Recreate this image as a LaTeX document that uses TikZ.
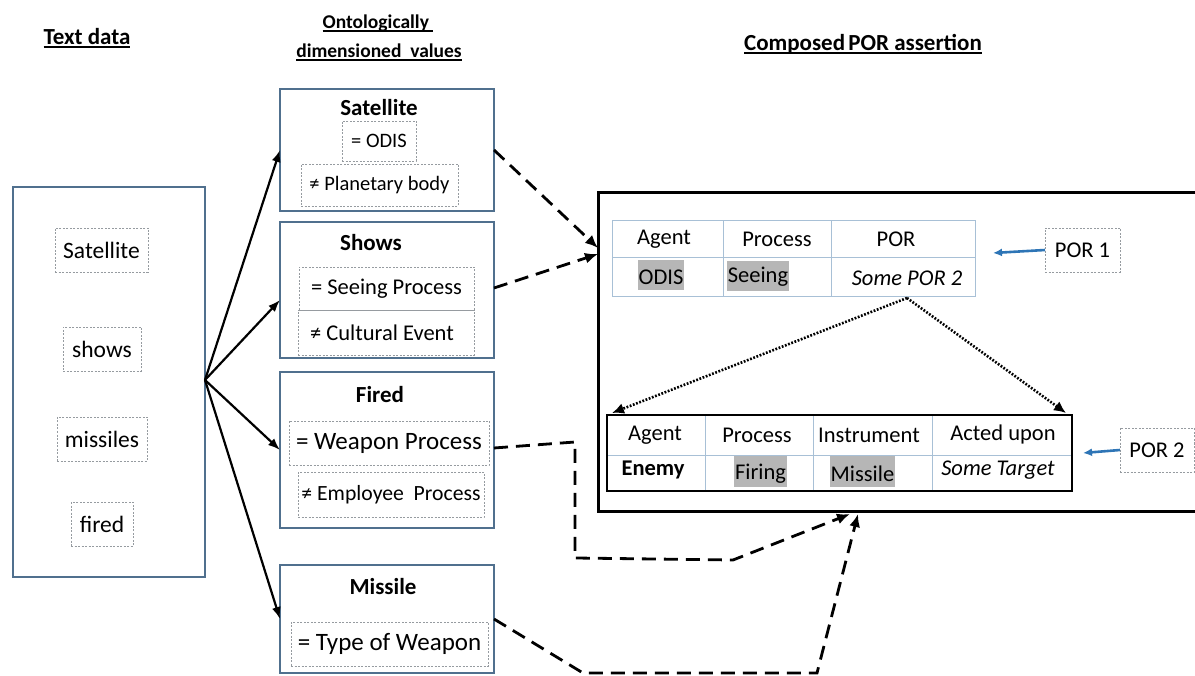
\documentclass[tikz,border=0pt]{standalone}
\usepackage{fontspec}
\setmainfont{Carlito}
\usetikzlibrary{arrows.meta,calc}
\definecolor{boxblue}{RGB}{80,112,142}
\definecolor{dashgray}{RGB}{150,155,160}
\definecolor{tblue}{RGB}{168,192,214}
\definecolor{hl}{RGB}{182,182,182}
\definecolor{arrblue}{RGB}{46,117,182}
\newcommand{\myul}[1]{\setbox0=\hbox{#1}\rlap{\rule[-3.5pt]{\wd0}{1.6pt}}\box0}
\begin{document}
\begin{tikzpicture}[x=1pt,y=-1pt,
  font=\fontsize{22.5}{26}\selectfont,
  bluebox/.style={draw=boxblue,line width=2.6pt,inner sep=0pt,outer sep=0pt},
  vbox/.style={draw=dashgray,dash pattern=on 2pt off 1.5pt,line width=0.8pt,inner sep=0pt,outer sep=0pt},
  ttl/.style={font=\fontsize{23}{27}\selectfont\bfseries},
  subttl/.style={font=\fontsize{19.5}{22}\selectfont\bfseries},
  hdr/.style={font=\fontsize{23}{27}\selectfont\bfseries},
  word/.style={font=\fontsize{23.5}{27}\selectfont},
  small/.style={font=\fontsize{20.5}{24}\selectfont},
  big/.style={font=\fontsize{25}{29}\selectfont},
  tline/.style={draw=tblue,line width=1pt},
  hlbox/.style={fill=hl,inner sep=0pt,outer sep=0pt},
  darrow/.style={line width=2.8pt,dash pattern=on 14pt off 8pt,-{Latex[length=13pt,width=11pt]}},
  sarrow/.style={line width=2.2pt,-{Latex[length=12pt,width=9pt]}},
  dotarrow/.style={line width=2.6pt,dash pattern=on 1.8pt off 1.6pt,-{Latex[length=12pt,width=11pt]}},
  barrow/.style={draw=arrblue,line width=2.6pt,-{Latex[length=9pt,width=8pt]}}]
\useasboundingbox (0,0) rectangle (1195,676);
\clip (0,0) rectangle (1195,676);

% titles
\node[ttl] (t1) at (87,38) {\myul{Text data}};
\node[subttl] (t2a) at (378,23) {\myul{Ontologically\ }};
\node[subttl] (t2b) at (379,52) {\myul{dimensioned\ \ values}};
\node[ttl] (t3) at (863,44) {\myul{Composed\kern-2pt\ POR assertion}};

% left box
\node[bluebox,minimum width=192pt,minimum height=390pt] (lb) at (109,382) {};
\node[vbox,word,minimum width=93pt,minimum height=44pt] (w1) at (101.5,250) {Satellite};
\node[vbox,word,minimum width=78pt,minimum height=44pt] (w2) at (102,349) {shows};
\node[vbox,word,minimum width=90pt,minimum height=44pt] (w3) at (102,439) {missiles};
\node[vbox,word,minimum width=62pt,minimum height=44pt] (w4) at (102,524) {fired};
\coordinate (src) at (205,380);

% middle boxes
\node[bluebox,minimum width=214pt,minimum height=122pt] (sat) at (387,150) {};
\node[hdr] (satT) at (379,108) {Satellite};
\node[vbox,small,minimum width=74pt,minimum height=40pt] (sat1) at (379,141) {= ODIS};
\node[vbox,small,minimum width=157pt,minimum height=42pt] (sat2) at (379.5,185) {≠ Planetary body};

\node[bluebox,minimum width=214pt,minimum height=136pt] (shows) at (387,290) {};
\node[hdr] (showsT) at (371,243) {Shows};
\node[vbox,minimum width=175pt,minimum height=43pt] (sh1) at (386.5,288.5) {= Seeing Process};
\node[vbox,minimum width=176pt,minimum height=45pt] (sh2) at (386,332.5) {≠ Cultural Event\kern8pt};

\node[bluebox,minimum width=214pt,minimum height=156pt] (fired) at (387,450) {};
\node[hdr] (firedT) at (380,395) {Fired};
\node[vbox,big,minimum width=200pt,minimum height=44pt] (fi1) at (389,443) {= Weapon Process};
\node[vbox,minimum width=186pt,minimum height=45pt,font=\fontsize{21.7}{25}\selectfont] (fi2) at (391,494.5) {≠ Employee\ \ Process};

\node[bluebox,minimum width=214pt,minimum height=108pt] (mis) at (387,619) {};
\node[hdr] (misT) at (383,587) {Missile};
\node[vbox,big,minimum width=197pt,minimum height=44pt] (mi1) at (389.5,644) {= Type of Weapon};

% arrows from text data
\draw[sarrow] (src) -- (sat.west);
\draw[sarrow] (src) -- ([yshift=-10pt]shows.west);
\draw[sarrow] (src) -- (fired.west);
\draw[sarrow] (src) -- (mis.west);

% big box
\node[draw=black,line width=3pt,minimum width=602pt,minimum height=318pt,inner sep=0pt,outer sep=0pt] (big) at (899,352) {};

% POR1 table
\draw[tline] (612,221) rectangle (975,297);
\draw[tline] (612,258) -- (975,258);
\draw[tline] (723,221) -- (723,297);
\draw[tline] (831,221) -- (831,297);
\node (a1) at (664,239) {Agent};
\node (a2) at (777,239) {Process};
\node (a3) at (896,239) {POR};
\node[hlbox,minimum width=46pt,text height=25pt,text depth=5pt] (a4) at (661,275) {ODIS};
\node[hlbox,minimum width=62pt,text height=22pt,text depth=8pt] (a5) at (758,276) {Seeing};
\node (a6) at (907,278) {\itshape Some POR 2};

% POR2 table
\draw[tline] (607,455) -- (1072,455);
\draw[tline] (705,415) -- (705,491);
\draw[tline] (813,415) -- (813,491);
\draw[tline] (932,415) -- (932,491);
\draw[line width=1.8pt] (607,415) rectangle (1072,491);
\node (b1) at (655,435) {Agent};
\node (b2) at (757,435) {Process};
\node (b3) at (869,435) {Instrument};
\node (b4) at (1003,435) {Acted upon};
\node[font=\fontsize{22.5}{26}\selectfont\bfseries] (b5) at (653,470) {Enemy};
\node[hlbox,minimum width=53pt,text height=23pt,text depth=8pt] (b6) at (760.5,471.5) {Firing};
\node[hlbox,minimum width=65pt,text height=25pt,text depth=6pt] (b7) at (862.5,471.5) {Missile};
\node (b8) at (998,470) {\itshape Some Target};

% dotted arrows
\coordinate (apex) at (907,298);
\coordinate (l2) at (612,413);
\coordinate (r2) at (1066,413);
\draw[dotarrow] (apex) -- (l2);
\draw[dotarrow] (apex) -- (r2);

% POR labels
\node[vbox,minimum width=75pt,minimum height=44pt] (p1) at (1082.5,250) {POR 1};
\node[vbox,minimum width=74pt,minimum height=44pt] (p2) at (1157,450) {POR 2};
\coordinate (p1t) at (993,253);
\coordinate (p2t) at (1083,453);
\draw[barrow] (p1.west) -- (p1t);
\draw[barrow] (p2.west) -- (p2t);

% dashed connectors
\coordinate (e1) at (598,248);
\coordinate (e2) at (598,254);
\coordinate (e3) at (850,514);
\coordinate (e4) at (858,514);
\draw[darrow] (sat.east) -- (e1);
\draw[darrow] ([yshift=2pt]shows.east) -- (e2);
\draw[darrow] ([yshift=2pt]fired.east) -- (575,442) -- (575,558) -- (733,560) -- (e3);
\draw[darrow] (mis.east) -- (583,673) -- (817,673) -- (e4);
\end{tikzpicture}
\end{document}
